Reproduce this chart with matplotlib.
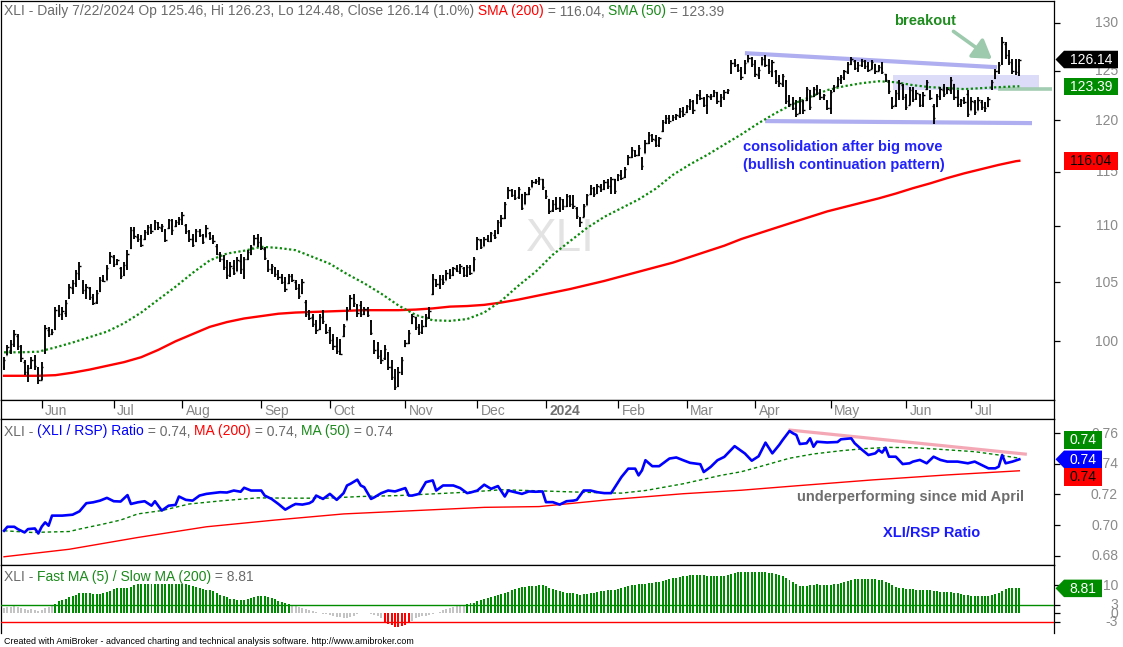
import numpy as np
import pandas as pd
import matplotlib
matplotlib.use("Agg")
import matplotlib.pyplot as plt
from matplotlib.patches import Polygon, Rectangle

# ------------------------------------------------------------------ data
holidays = ["2023-05-29", "2023-06-19", "2023-07-04", "2023-09-04", "2023-11-23",
            "2023-12-25", "2024-01-01", "2024-01-15", "2024-02-19", "2024-03-29",
            "2024-05-27", "2024-06-19", "2024-07-04"]
dates = pd.bdate_range("2023-05-16", "2024-07-22", freq="C", holidays=holidays)

opens = [
    97.9, 98.9, 99.3, 99.8, 100.4, 99.5, 98.3, 97.4, 97.9, 98.5,
    97.8, 96.9, 99.1, 100.9, 100.6, 101.0, 102.5, 102.3, 102.4, 103.7,
    104.5, 104.8, 105.7, 105.0, 104.3, 104.5, 103.6, 103.3, 104.2, 105.3,
    105.2, 106.8, 107.2, 106.6, 106.2, 105.6, 106.3, 108.0, 109.6, 109.0,
    108.9, 108.8, 109.3, 109.8, 109.7, 110.2, 109.8, 109.6, 109.8, 110.5,
    110.0, 110.2, 110.5, 110.1, 109.4, 108.8, 108.6, 109.5, 109.2, 109.0,
    109.3, 109.0, 108.2, 107.5, 107.0, 106.2, 105.7, 106.2, 106.0, 106.8,
    105.5, 107.0, 107.5, 108.3, 108.9, 108.8, 107.9, 106.8, 106.1, 106.2,
    105.8, 105.4, 105.1, 104.9, 105.5, 105.0, 104.5, 104.1, 103.3, 102.2,
    102.0, 101.3, 101.0, 102.1, 101.4, 100.9, 100.2, 99.6, 99.2, 100.4,
    101.8, 102.8, 103.5, 103.0, 103.0, 102.3, 102.7, 101.7, 100.0, 99.4,
    98.9, 98.6, 99.0, 97.9, 97.0, 96.4, 97.5, 99.6, 99.9, 101.5,
    102.0, 101.2, 100.8, 101.3, 102.0, 104.0, 105.2, 104.8, 105.2, 105.2,
    105.7, 105.6, 106.1, 106.0, 106.2, 105.6, 106.3, 106.0, 107.9, 108.7,
    108.2, 108.8, 108.6, 109.2, 109.3, 110.2, 110.7, 112.6, 113.3, 112.8,
    112.6, 112.9, 112.0, 112.9, 113.6, 114.0, 114.2, 114.3, 113.2, 112.4,
    111.4, 112.0, 111.6, 112.3, 111.8, 112.6, 112.0, 111.6, 110.7, 110.8,
    111.9, 112.9, 113.4, 113.0, 113.6, 113.4, 114.0, 113.7, 114.3, 114.2,
    114.7, 114.5, 115.7, 116.4, 117.0, 116.6, 116.3, 116.8, 117.8, 118.5,
    118.0, 117.6, 118.9, 119.8, 120.2, 120.0, 120.2, 120.4, 120.9, 120.8,
    121.3, 121.9, 121.7, 122.5, 122.2, 121.5, 122.3, 122.4, 122.8, 121.9,
    122.2, 122.8, 124.8, 125.8, 125.6, 125.0, 124.7, 125.9, 126.3, 125.9,
    124.5, 125.6, 126.2, 125.6, 124.8, 125.0, 123.9, 123.6, 123.9, 122.0,
    121.7, 121.2, 120.7, 121.8, 122.0, 123.0, 122.4, 123.0, 122.7, 122.3,
    121.9, 121.2, 122.9, 123.4, 124.0, 124.2, 124.8, 125.7, 126.0, 125.3,
    125.6, 125.9, 125.5, 125.2, 125.7, 125.0, 125.3, 124.6, 123.9, 122.2,
    121.5, 122.5, 123.5, 122.3, 121.5, 122.9, 122.2, 122.6, 121.6, 123.1,
    122.9, 121.4, 121.4, 122.3, 123.0, 122.7, 123.0, 123.6, 122.3, 121.6,
    122.0, 122.6, 121.0, 121.8, 121.0, 121.8, 121.3, 121.4, 123.2, 124.2,
    125.0, 125.8, 127.8, 126.6, 125.8, 125.0, 125.46]

highs = [
    98.72, 99.67, 100.08, 100.91, 100.63, 99.67, 98.45, 98.04, 98.72, 98.86,
    97.91, 98.31, 101.33, 101.19, 101.05, 102.87, 103.0, 102.87, 103.44, 104.86,
    105.16, 106.03, 106.76, 105.16, 104.86, 104.57, 104.0, 104.29, 105.45, 105.6,
    106.47, 107.64, 107.35, 107.06, 106.33, 106.76, 107.79, 109.88, 109.88, 109.27,
    109.12, 109.58, 110.03, 110.18, 110.49, 110.33, 110.18, 109.73, 110.64, 110.64,
    110.49, 110.79, 111.25, 110.18, 109.58, 109.27, 109.73, 109.73, 109.27, 110.03,
    109.42, 109.12, 108.39, 107.64, 107.35, 106.91, 106.76, 106.91, 107.2, 107.5,
    107.2, 107.79, 108.24, 109.12, 109.27, 108.98, 108.09, 106.91, 106.62, 106.33,
    106.03, 105.74, 105.45, 105.74, 105.74, 105.16, 104.86, 105.31, 103.44, 102.59,
    102.31, 101.75, 102.31, 102.59, 101.47, 101.19, 100.63, 100.35, 100.21, 101.47,
    102.87, 103.87, 104.0, 103.15, 103.4, 102.87, 102.87, 101.75, 100.08, 99.94,
    99.26, 99.67, 99.12, 98.45, 97.77, 97.91, 98.72, 100.08, 100.91, 102.31,
    102.03, 101.47, 101.75, 102.31, 102.87, 105.74, 105.31, 105.6, 105.6, 106.03,
    106.18, 106.33, 106.47, 106.62, 106.33, 106.47, 106.47, 107.2, 108.98, 108.83,
    108.98, 109.12, 109.42, 109.58, 110.49, 110.94, 112.18, 113.57, 113.42, 113.26,
    113.57, 112.95, 113.1, 113.57, 114.2, 114.35, 114.51, 114.35, 113.26, 112.48,
    112.33, 112.64, 112.64, 112.48, 112.95, 112.79, 112.79, 111.71, 110.79, 112.02,
    112.95, 113.73, 113.57, 113.88, 113.88, 114.2, 114.35, 114.51, 114.35, 114.83,
    115.14, 115.46, 116.6, 117.38, 117.06, 117.54, 116.42, 118.02, 118.84, 118.67,
    118.51, 118.35, 119.99, 120.49, 120.49, 120.49, 120.65, 121.15, 121.31, 121.48,
    122.15, 121.98, 122.65, 122.99, 122.31, 122.65, 122.65, 122.99, 122.82, 122.65,
    122.99, 123.16, 126.07, 126.24, 125.72, 125.38, 126.07, 126.59, 126.42, 126.07,
    125.38, 126.42, 126.59, 126.24, 126.07, 125.03, 124.52, 124.69, 124.01, 122.48,
    122.31, 121.98, 122.31, 121.98, 123.33, 123.05, 123.33, 123.5, 123.16, 122.65,
    121.98, 122.99, 123.5, 124.35, 124.52, 125.03, 125.9, 126.42, 126.07, 125.9,
    126.24, 126.07, 125.9, 126.07, 125.72, 125.55, 125.9, 124.69, 124.01, 122.31,
    122.99, 124.01, 123.67, 122.65, 123.33, 123.33, 122.99, 122.65, 122.82, 124.01,
    122.99, 121.64, 122.65, 123.33, 123.67, 123.33, 124.35, 123.67, 122.99, 122.15,
    122.31, 122.99, 122.31, 121.98, 122.31, 121.98, 121.81, 122.31, 124.01, 125.2,
    125.9, 128.51, 127.99, 127.11, 126.24, 126.24, 126.23]

lows = [
    97.64, 98.86, 98.99, 99.53, 99.26, 98.32, 97.23, 96.70, 97.77, 97.64,
    96.57, 96.83, 98.99, 100.35, 100.49, 100.91, 102.03, 101.75, 102.03, 103.58,
    104.0, 104.57, 105.16, 104.0, 103.58, 103.44, 103.01, 103.15, 104.14, 105.02,
    105.16, 106.62, 106.33, 106.47, 105.31, 105.5, 106.03, 107.94, 108.83, 108.53,
    108.09, 108.68, 109.12, 109.27, 109.58, 109.58, 109.42, 108.53, 109.73, 109.12,
    109.88, 110.03, 110.03, 109.27, 108.53, 108.09, 108.53, 108.98, 108.39, 108.98,
    108.68, 108.39, 107.35, 106.76, 106.03, 105.31, 105.45, 105.6, 105.95, 105.74,
    105.31, 106.91, 107.35, 108.24, 108.09, 107.79, 106.91, 105.89, 105.74, 105.45,
    105.16, 104.86, 104.14, 104.86, 105.02, 104.29, 103.58, 104.0, 102.03, 101.75,
    101.19, 100.63, 100.9, 101.47, 100.63, 99.8, 99.26, 98.99, 98.86, 100.35,
    101.75, 102.59, 102.87, 102.03, 102.0, 102.17, 102.03, 100.49, 98.99, 98.58,
    98.18, 98.45, 97.64, 96.83, 96.04, 96.3, 97.23, 99.53, 99.8, 101.47,
    100.91, 100.49, 100.63, 101.19, 101.89, 103.87, 104.57, 104.43, 104.72, 105.16,
    105.31, 105.55, 105.89, 105.74, 105.45, 105.45, 105.6, 105.95, 107.79, 107.94,
    108.15, 108.53, 108.53, 108.83, 109.27, 109.88, 110.64, 112.48, 112.64, 112.33,
    112.48, 111.4, 111.95, 112.79, 113.57, 113.88, 113.73, 113.26, 112.48, 111.09,
    111.25, 111.4, 111.25, 111.4, 111.71, 111.71, 111.56, 110.64, 109.88, 110.75,
    111.87, 112.79, 112.64, 112.95, 113.1, 113.26, 113.42, 112.95, 112.95, 114.1,
    114.2, 114.4, 115.6, 116.35, 116.42, 116.5, 115.14, 116.74, 117.7, 117.86,
    117.38, 117.38, 118.84, 119.66, 119.66, 119.95, 119.99, 120.16, 120.32, 120.75,
    120.98, 120.65, 121.64, 121.98, 121.31, 120.65, 121.98, 122.31, 121.64, 121.31,
    121.98, 122.65, 124.69, 125.38, 124.86, 124.01, 124.65, 125.85, 125.38, 124.35,
    124.18, 125.55, 125.38, 124.69, 124.35, 123.67, 123.33, 123.33, 121.64, 121.31,
    120.98, 120.32, 120.65, 120.65, 121.95, 120.98, 122.31, 122.48, 121.98, 121.98,
    120.98, 120.65, 122.82, 123.33, 123.67, 124.01, 124.69, 125.55, 125.03, 124.86,
    125.38, 125.2, 124.86, 125.15, 124.69, 124.95, 124.69, 123.84, 122.65, 121.14,
    121.31, 121.98, 121.98, 120.98, 121.45, 121.81, 121.98, 121.31, 121.31, 122.99,
    121.98, 119.66, 121.31, 121.98, 122.31, 122.65, 122.65, 121.98, 121.31, 121.31,
    121.64, 120.32, 120.98, 120.49, 120.95, 120.98, 120.82, 121.31, 122.99, 124.18,
    124.69, 125.55, 126.24, 125.55, 124.69, 124.52, 124.48]

closes = [
    98.5, 99.5, 99.8, 100.6, 99.6, 98.6, 97.5, 97.8, 98.5, 98.0,
    96.9, 97.9, 101.1, 100.6, 100.8, 102.6, 102.3, 102.5, 103.2, 104.6,
    104.9, 105.8, 106.4, 104.3, 104.6, 103.7, 103.2, 104.1, 105.2, 105.1,
    106.2, 107.3, 106.6, 106.9, 105.5, 106.5, 107.5, 109.6, 109.1, 108.8,
    108.3, 109.4, 109.9, 109.5, 110.3, 109.9, 110.0, 108.7, 110.5, 109.6,
    110.3, 110.6, 111.0, 109.5, 108.8, 108.3, 109.5, 109.2, 108.5, 109.8,
    108.9, 108.6, 107.5, 107.0, 106.3, 105.6, 106.4, 105.8, 106.9, 106.1,
    107.0, 107.6, 108.1, 108.9, 108.5, 108.0, 107.1, 106.1, 106.4, 105.7,
    105.4, 105.0, 104.4, 105.5, 105.2, 104.5, 103.8, 105.0, 102.3, 101.9,
    101.4, 100.9, 102.0, 101.7, 100.8, 100.1, 99.6, 99.2, 99.0, 101.3,
    102.6, 103.6, 103.2, 102.4, 102.3, 102.7, 102.2, 100.7, 99.3, 98.8,
    98.5, 99.4, 97.9, 97.1, 96.3, 97.5, 98.5, 99.9, 100.7, 102.1,
    101.2, 100.8, 101.3, 102.0, 102.5, 105.3, 104.8, 105.3, 105.0, 105.8,
    105.6, 106.2, 106.0, 106.4, 105.6, 106.3, 105.8, 107.0, 108.8, 108.1,
    108.8, 108.6, 109.3, 109.0, 110.3, 110.7, 112.0, 113.3, 112.8, 112.5,
    113.4, 111.6, 112.9, 113.4, 114.0, 114.1, 114.3, 113.6, 112.7, 111.3,
    112.0, 111.6, 112.4, 111.8, 112.7, 112.0, 111.8, 110.9, 110.3, 111.8,
    112.8, 113.5, 112.9, 113.7, 113.4, 114.0, 113.7, 114.3, 113.2, 114.7,
    114.4, 115.3, 116.4, 117.1, 116.6, 117.3, 115.5, 117.8, 118.5, 118.1,
    117.6, 118.2, 119.8, 120.2, 119.9, 120.3, 120.5, 120.9, 120.6, 121.4,
    121.9, 121.0, 122.5, 122.2, 121.5, 122.4, 122.4, 122.8, 121.9, 122.3,
    122.8, 123.0, 125.8, 125.6, 125.1, 124.3, 125.8, 126.3, 125.7, 124.6,
    125.1, 126.2, 125.6, 124.9, 125.9, 123.9, 123.7, 124.4, 121.9, 121.6,
    121.2, 120.6, 121.9, 121.0, 123.1, 121.3, 123.1, 122.7, 122.3, 122.5,
    121.2, 122.8, 123.3, 124.1, 124.3, 124.9, 125.7, 126.2, 125.3, 125.6,
    126.0, 125.5, 125.1, 125.9, 124.9, 125.4, 124.8, 124.0, 122.9, 121.4,
    122.7, 123.7, 122.3, 121.3, 123.0, 122.1, 122.7, 121.5, 122.5, 123.8,
    122.2, 120.2, 122.4, 123.1, 122.6, 123.1, 124.0, 122.3, 121.6, 122.0,
    121.8, 120.6, 121.9, 120.8, 122.0, 121.3, 121.2, 122.1, 123.8, 125.0,
    125.6, 128.0, 126.6, 125.9, 125.0, 124.89, 126.14]

# moving averages of price, read every 5 bars
ma_idx = list(range(0, 300, 5)) + [296]
sma50 = [
    99.1, 99.1, 99.15, 99.5, 99.9, 100.35, 100.8, 101.5, 102.4, 103.5,
    104.6, 105.8, 106.9, 107.5, 107.75, 108.1, 108.0, 107.8, 107.2, 106.6,
    105.7, 104.9, 104.0, 103.0, 102.2, 101.75, 101.7, 101.85, 102.4, 103.4,
    104.7, 105.9, 107.4, 108.6, 109.8, 110.8, 111.6, 112.4, 113.4, 114.7,
    115.7, 116.6, 117.6, 118.6, 119.7, 120.7, 121.6, 122.3, 123.0, 123.4,
    123.7, 123.9, 123.8, 123.5, 123.3, 123.2, 123.1, 123.2, 123.3, 123.38, 123.39]
sma200 = [
    97.2, 97.2, 97.2, 97.25, 97.45, 97.7, 98.0, 98.3, 98.7, 99.3,
    100.0, 100.6, 101.2, 101.6, 101.9, 102.1, 102.3, 102.4, 102.45, 102.5,
    102.55, 102.6, 102.6, 102.6, 102.65, 102.75, 102.9, 102.95, 103.05, 103.25,
    103.5, 103.8, 104.1, 104.4, 104.75, 105.1, 105.5, 105.9, 106.3, 106.7,
    107.2, 107.7, 108.2, 108.8, 109.3, 109.8, 110.3, 110.8, 111.3, 111.7,
    112.1, 112.5, 112.95, 113.45, 113.9, 114.4, 114.85, 115.25, 115.65, 116.0, 116.04]

# XLI / RSP ratio
ratio_idx = [
    0, 1, 3, 4, 6, 7, 9, 10, 11, 12, 13, 14, 17, 20, 22, 24, 26, 28, 30, 32,
    34, 36, 37, 39, 41, 43, 44, 46, 48, 50, 51, 53, 55, 57, 59, 63, 65, 67, 69, 70,
    72, 75, 76, 78, 80, 82, 84, 85, 87, 89, 90, 91, 93, 95, 97, 99, 100, 101, 103, 104,
    105, 107, 108, 110, 112, 114, 117, 118, 119, 121, 123, 125, 126, 128, 131, 133, 135, 136, 138, 140,
    142, 144, 146, 147, 149, 151, 153, 155, 157, 158, 160, 162, 164, 166, 167, 169, 171, 173, 175, 177,
    180, 182, 184, 185, 186, 187, 189, 191, 194, 196, 198, 200, 203, 204, 206, 208, 210, 213, 216, 218,
    220, 222, 224, 226, 227, 229, 230, 231, 232, 234, 235, 236, 237, 240, 243, 244, 247, 248, 250, 252,
    254, 255, 256, 257, 258, 260, 262, 264, 265, 267, 269, 271, 273, 275, 278, 281, 283, 285, 287, 289,
    290, 291, 292, 294, 296]
ratio_vals = [
    0.6963, 0.6989, 0.6989, 0.6974, 0.6952, 0.6974, 0.6978, 0.6945, 0.6990, 0.7018,
    0.6996, 0.7062, 0.7062, 0.7068, 0.7090, 0.7143, 0.7149, 0.7160, 0.7178, 0.7156,
    0.7154, 0.7196, 0.7138, 0.7149, 0.7156, 0.7127, 0.7156, 0.7095, 0.7127, 0.7132,
    0.7187, 0.7165, 0.7160, 0.7193, 0.7204, 0.7215, 0.7213, 0.7226, 0.7218, 0.7244,
    0.7226, 0.7226, 0.7193, 0.7171, 0.7138, 0.7101, 0.7127, 0.7138, 0.7134, 0.7143,
    0.7156, 0.7193, 0.7171, 0.7204, 0.7165, 0.7209, 0.7259, 0.7270, 0.7297, 0.7259,
    0.7248, 0.7171, 0.7182, 0.7209, 0.7226, 0.7220, 0.7242, 0.7193, 0.7193, 0.7204,
    0.7281, 0.7292, 0.7226, 0.7259, 0.7259, 0.7242, 0.7209, 0.7213, 0.7226, 0.7264,
    0.7237, 0.7255, 0.7187, 0.7226, 0.7215, 0.7204, 0.7220, 0.7218, 0.7220, 0.7150,
    0.7150, 0.7134, 0.7156, 0.7160, 0.7165, 0.7226, 0.7226, 0.7215, 0.7209, 0.7209,
    0.7314, 0.7369, 0.7369, 0.7325, 0.7358, 0.7424, 0.7385, 0.7385, 0.7435, 0.7442,
    0.7424, 0.7407, 0.7398, 0.7347, 0.7380, 0.7424, 0.7446, 0.7516, 0.7468, 0.7421,
    0.7450, 0.7539, 0.7469, 0.7524, 0.7556, 0.7615, 0.7600, 0.7589, 0.7530, 0.7535,
    0.7567, 0.7512, 0.7545, 0.7540, 0.7543, 0.7561, 0.7567, 0.7535, 0.7495, 0.7458,
    0.7469, 0.7491, 0.7474, 0.7506, 0.7447, 0.7447, 0.7399, 0.7404, 0.7415, 0.7426,
    0.7404, 0.7447, 0.7426, 0.7415, 0.7415, 0.7404, 0.7415, 0.7393, 0.7371, 0.7371,
    0.7382, 0.7458, 0.7404, 0.7415, 0.7430]
ratio_ma50_idx = [0, 8, 19, 22, 29, 34, 39, 46, 54, 64, 74, 84, 94, 104, 115, 125, 135, 145,
                  156, 164, 176, 180, 187, 198, 209, 215, 220, 229, 236, 244, 251, 258, 266,
                  273, 283, 290, 296]
ratio_ma50_vals = [0.6963, 0.6952, 0.6958, 0.6974, 0.7007, 0.7033, 0.7073, 0.7095, 0.7138,
                   0.7160, 0.7178, 0.7176, 0.7176, 0.7187, 0.7193, 0.7204, 0.7215, 0.7231,
                   0.7224, 0.7218, 0.7210, 0.7209, 0.7226, 0.7270, 0.7325, 0.7349, 0.7380,
                   0.7437, 0.7465, 0.7486, 0.7500, 0.7508, 0.7505, 0.7495, 0.7480, 0.7458, 0.7437]
ratio_ma200_idx = [0, 19, 39, 59, 79, 99, 120, 140, 156, 176, 198, 215, 230, 253, 275, 296]
ratio_ma200_vals = [0.6793, 0.6842, 0.6919, 0.6989, 0.7033, 0.7073, 0.7095, 0.7116, 0.7121,
                    0.7165, 0.7205, 0.7228, 0.7255, 0.7295, 0.7328, 0.7355]

# Fast MA(5) / Slow MA(200) oscillator, one value per bar
fast_slow = [
    2.0, 2.2, 2.4, 2.6, 2.4, 2.0, 1.4, 1.2, 1.4, 1.3,
    0.9, 1.0, 1.8, 2.4, 2.9, 3.4, 4.2, 4.7, 5.0, 5.6,
    6.1, 6.6, 7.1, 7.3, 7.3, 7.1, 6.9, 6.8, 6.8, 7.0,
    7.5, 8.0, 8.5, 8.8, 8.9, 9.0, 9.0, 9.4, 9.9, 10.2,
    10.3, 10.4, 10.4, 10.5, 10.5, 10.5, 10.5, 10.4, 10.4, 10.4,
    10.3, 10.3, 10.3, 10.2, 10.0, 9.6, 9.3, 9.0, 8.7, 8.4,
    8.2, 7.8, 7.3, 6.6, 6.1, 5.6, 5.2, 4.9, 4.7, 4.7,
    4.8, 5.0, 5.3, 5.7, 6.0, 6.2, 6.1, 5.8, 5.4, 4.9,
    4.4, 4.0, 3.6, 3.2, 2.9, 2.6, 2.3, 2.0, 1.6, 1.1,
    0.7, 0.3, 0.1, -0.2, -0.4, -0.6, -0.9, -1.2, -1.4, -1.5,
    -1.7, -1.3, -0.8, -0.3, 0.1, 0.2, 0.1, -0.2, -0.6, -1.1,
    -1.8, -3.2, -3.8, -4.3, -4.8, -4.9, -4.6, -4.2, -3.5, -2.6,
    -1.8, -1.4, -1.1, -0.9, -0.6, -0.2, 0.2, 0.6, 1.0, 1.4,
    1.8, 2.2, 2.5, 2.8, 2.95, 3.2, 3.5, 3.8, 4.2, 4.6,
    5.0, 5.3, 5.6, 6.0, 6.3, 6.7, 7.2, 7.7, 8.2, 8.6,
    9.0, 9.2, 9.4, 9.5, 9.6, 9.8, 10.0, 10.0, 9.6, 9.0,
    8.6, 8.1, 7.8, 7.5, 7.3, 7.1, 7.0, 6.8, 6.6, 6.7,
    6.9, 7.1, 7.3, 7.6, 7.8, 8.0, 8.1, 8.2, 8.3, 8.5,
    8.8, 9.2, 9.6, 9.9, 10.1, 10.3, 10.2, 10.4, 10.6, 10.8,
    10.9, 11.0, 11.3, 11.8, 12.1, 12.4, 12.6, 12.9, 13.2, 13.3,
    13.4, 13.4, 13.4, 13.4, 13.4, 13.3, 13.3, 13.2, 13.1, 13.1,
    13.2, 13.5, 13.9, 14.3, 14.6, 14.7, 14.7, 14.6, 14.6, 14.6,
    14.5, 14.5, 14.5, 14.3, 14.2, 14.0, 13.6, 13.1, 12.5, 11.8,
    11.0, 10.2, 9.8, 9.6, 9.8, 9.9, 10.1, 10.2, 10.1, 10.0,
    9.9, 10.0, 10.2, 10.5, 10.8, 11.1, 11.5, 11.9, 12.1, 12.2,
    12.2, 12.2, 12.2, 12.2, 12.1, 11.9, 11.6, 11.2, 10.6, 10.0,
    9.4, 9.1, 8.9, 8.7, 8.6, 8.5, 8.4, 8.3, 8.3, 8.4,
    8.3, 8.0, 7.9, 7.5, 7.5, 7.6, 7.5, 7.3, 7.1, 6.9,
    6.6, 6.4, 6.2, 6.1, 6.0, 6.0, 6.0, 6.1, 6.4, 6.8,
    7.2, 8.0, 8.6, 8.8, 8.8, 8.8, 8.81]

# annotation geometry (bar index, value)
consol_upper = ([216, 289.5], [126.8, 125.34])
consol_lower = ([221.9, 299.7], [119.9, 119.7])
consol_box = (259.3, 301.6, 123.0, 124.5)
sma_marker = ([289.8, 305.4], [123.1, 123.1])
ratio_trend = ([228.7, 298.2], [0.7622, 0.7463])

assert len(dates) == len(closes) == len(opens) == len(highs) == len(lows) == len(fast_slow)

# ------------------------------------------------------------------ figure
W, H = 1123, 647
plt.rcParams['font.family'] = ['Liberation Sans', 'DejaVu Sans']
fig = plt.figure(figsize=(W / 100, H / 100), dpi=100)
fig.patch.set_facecolor('white')

GREY = '#6b6b6b'
TICKGREY = '#8a8a8a'
GREEN = '#008c00'
RED = '#ff0000'
BLUE = '#0000ff'
AXR = 1054.3


def rect(x0, y0, x1, y1):
    return [x0 / W, 1 - y1 / H, (x1 - x0) / W, (y1 - y0) / H]


ax1 = fig.add_axes(rect(1, 1, AXR, 400))
axd = fig.add_axes(rect(1, 400, AXR, 419.3))
ax2 = fig.add_axes(rect(1, 419.3, AXR, 565))
ax3 = fig.add_axes(rect(1, 565, AXR, 632.7))

n = len(closes)
x = np.arange(n)
XLIM = (-0.875, 306.2)
for a in (ax1, axd, ax2, ax3):
    a.set_xlim(*XLIM)
    a.set_xticks([])
    for s in a.spines.values():
        s.set_linewidth(0.9)
        s.set_color('black')
ax3.spines['bottom'].set_visible(False)

# ---- price panel
ax1.set_yscale('log')
ax1.set_ylim(95.28, 132.37)
price_ticks = [100, 105, 110, 115, 120, 125, 130]
ax1.set_yticks(price_ticks)
ax1.yaxis.set_minor_locator(plt.NullLocator())
ax1.tick_params(axis='y', which='both', left=False, right=True, labelleft=False,
                labelright=False, direction='out', length=4, width=0.9)

ax1.add_patch(Rectangle((consol_box[0], consol_box[2]), consol_box[1] - consol_box[0],
                        consol_box[3] - consol_box[2], facecolor='#dcdcf9', edgecolor='none', zorder=1))
ax1.plot(*consol_upper, color='#aeaef0', lw=3.0, solid_capstyle='butt', zorder=1.5)
ax1.plot(*consol_lower, color='#aeaef0', lw=3.0, solid_capstyle='butt', zorder=1.5)
ax1.plot(*sma_marker, color='#a3cdb2', lw=2.6, solid_capstyle='butt', zorder=1.5)

ax1.text(162.1, 108.8, 'XLI', color='#e3e3e3', fontsize=33, ha='center', va='center', zorder=0.5)

ax1.plot(ma_idx, sma200, color=RED, lw=1.7, zorder=2)
ax1.plot(ma_idx, sma50, color='#0a8a0a', lw=1.6, ls=(0, (1, 1.1)), zorder=2)

ax1.vlines(x, lows, highs, color='black', lw=1.35, zorder=3)
ax1.hlines(opens, x - 0.4, x, color='black', lw=1.0, zorder=3)
ax1.hlines(closes, x, x + 0.4, color='black', lw=1.0, zorder=3)

ax1.text(268.4, 130.2, 'breakout', color='#1e8c1e', fontsize=10.5, fontweight='bold',
         ha='center', va='center')
ax1.annotate('', xy=(288, 126.2), xytext=(276.8, 129.1),
             arrowprops=dict(arrowstyle='-|>,head_length=0.55,head_width=0.35', color='#9dc9ad',
                             lw=2.6, mutation_scale=20, shrinkA=0, shrinkB=0))
ax1.text(215.5, 117.4, 'consolidation after big move', color='#2222ff', fontsize=10.5,
         fontweight='bold', ha='left', va='center')
ax1.text(215.5, 115.6, '(bullish continuation pattern)', color='#2222ff', fontsize=10.5,
         fontweight='bold', ha='left', va='center')

# ---- date strip
axd.set_ylim(0, 1)
axd.set_yticks([])
month_pos = [i for i in range(1, n) if dates[i].month != dates[i - 1].month]
axd.vlines(month_pos, 0.6, 1.0, color='black', lw=0.9)
for i in month_pos:
    d = dates[i]
    if d.month == 1:
        lab, fw, col = str(d.year), 'bold', '#707070'
    else:
        lab, fw, col = d.strftime('%b'), 'normal', '#858585'
    axd.annotate(lab, xy=(i, 0.2), xycoords=('data', 'axes fraction'), xytext=(3.5, 0),
                 textcoords='offset pixels', ha='left', va='baseline', fontsize=10,
                 color=col, fontweight=fw)

# ---- ratio panel
ax2.set_ylim(0.67392, 0.76915)
ratio_ticks = [0.68, 0.70, 0.72, 0.74, 0.76]
ax2.set_yticks(ratio_ticks)
ax2.tick_params(axis='y', left=False, right=True, labelleft=False, labelright=False,
                direction='out', length=4, width=0.9)
ax2.plot(ratio_ma200_idx, ratio_ma200_vals, color=RED, lw=1.0)
ax2.plot(ratio_ma50_idx, ratio_ma50_vals, color='#008000', lw=1.0, ls=(0, (2.5, 2)))
ax2.plot(*ratio_trend, color='#f4a8b6', lw=2.3, solid_capstyle='butt')
ax2.plot(ratio_idx, ratio_vals, color=BLUE, lw=1.9)
ax2.text(231.3, 0.7182, 'underperforming since mid April', color='#6e6e6e', fontsize=10.5,
         fontweight='bold', ha='left', va='center')
ax2.text(256.3, 0.6950, 'XLI/RSP Ratio', color='#1a1aff', fontsize=10.5, fontweight='bold',
         ha='left', va='center')

# ---- oscillator panel
ax3.set_ylim(-6.86, 17.07)
osc_ticks = [-3, 0, 3, 10]
ax3.set_yticks(osc_ticks)
ax3.tick_params(axis='y', left=False, right=True, labelleft=False, labelright=False,
                direction='out', length=4, width=0.9)
bar_cols = [GREEN if v >= 3 else (RED if v <= -3 else '#c4c4c4') for v in fast_slow]
ax3.bar(x, fast_slow, width=0.58, color=bar_cols, linewidth=0, zorder=2)
ax3.axhline(3, color=GREEN, lw=1.0, zorder=3)
ax3.axhline(-3, color=RED, lw=1.0, zorder=3)


# ------------------------------------------------------------------ texts
def chain(ax, xpx, ypx, pieces, size=10):
    t = ax.annotate(pieces[0][0], xy=(xpx, H - ypx), xycoords='figure pixels',
                    color=pieces[0][1], fontsize=size, ha='left', va='baseline',
                    annotation_clip=False)
    for txt, col in pieces[1:]:
        t = ax.annotate(txt, xy=(1, 0), xycoords=t, color=col, fontsize=size,
                        ha='left', va='bottom', annotation_clip=False)


pct = (closes[-1] / closes[-2] - 1) * 100
d_last = dates[-1]
chain(ax1, 4, 15.5, [
    (f"XLI - Daily {d_last.month}/{d_last.day}/{d_last.year} Op {opens[-1]:.2f}, "
     f"Hi {highs[-1]:.2f}, Lo {lows[-1]:.2f}, Close {closes[-1]:.2f} ({pct:.1f}%)", GREY),
    (" SMA (200)", RED), (f" = {sma200[-1]:.2f}, ", GREY),
    ("SMA (50)", '#1a8a1a'), (f" = {sma50[-1]:.2f}", GREY)])
chain(ax2, 4, 435.5, [
    ("XLI - ", GREY), ("(XLI / RSP) Ratio", BLUE), (f" = {ratio_vals[-1]:.2f}, ", GREY),
    ("MA (200)", RED), (f" = {ratio_ma200_vals[-1]:.2f}, ", GREY),
    ("MA (50)", '#1a8a1a'), (f" = {ratio_ma50_vals[-1]:.2f}", GREY)])
chain(ax3, 4, 581, [
    ("XLI - ", GREY), ("Fast MA (5) / Slow MA (200)", '#1a8a1a'),
    (f" = {fast_slow[-1]:.2f}", GREY)])

fig.text(4 / W, 1 - 644.5 / H,
         "Created with AmiBroker - advanced charting and technical analysis software. "
         "http://www.amibroker.com", fontsize=6.4, color='black', ha='left', va='baseline')


# right axis tick labels
def ydisp(ax, v):
    return ax.transData.transform((0, v))[1]


for ax, ticks, fmt in ((ax1, price_ticks, '{:.0f}'), (ax2, ratio_ticks, '{:.2f}'),
                       (ax3, osc_ticks, '{:.0f}')):
    for v in ticks:
        fig.text(1118 / W, (ydisp(ax, v) - 0.5) / H, fmt.format(v), ha='right',
                 va='center', fontsize=10, color=TICKGREY)


def side_box(yc, txt, fc, tc, x_right, arrow):
    h = 17.5
    xb = 1064
    top, bot = yc + h / 2, yc - h / 2
    if arrow:
        pts = [(1055.5, yc), (xb, top), (x_right, top), (x_right, bot), (xb, bot)]
    else:
        pts = [(xb, top), (x_right, top), (x_right, bot), (xb, bot)]
    fig.add_artist(Polygon([(px / W, py / H) for px, py in pts], closed=True,
                           transform=fig.transFigure, facecolor=fc, edgecolor='none', zorder=5))
    fig.text((xb + x_right) / 2 / W, (yc - 0.5) / H, txt, ha='center', va='center',
             color=tc, fontsize=10, zorder=6)


side_box(ydisp(ax1, closes[-1]), f"{closes[-1]:.2f}", 'black', 'white', 1118, True)
side_box(ydisp(ax1, sma50[-1]), f"{sma50[-1]:.2f}", GREEN, 'white', 1118, False)
side_box(ydisp(ax1, sma200[-1]), f"{sma200[-1]:.2f}", RED, 'black', 1118, False)

yb = ydisp(ax2, ratio_vals[-1])
side_box(yb, f"{ratio_vals[-1]:.2f}", BLUE, 'white', 1102, True)
side_box(yb + 19.5, f"{ratio_ma50_vals[-1]:.2f}", GREEN, 'white', 1102, False)
side_box(yb - 17.5, f"{ratio_ma200_vals[-1]:.2f}", RED, 'black', 1102, False)

side_box(ydisp(ax3, fast_slow[-1]), f"{fast_slow[-1]:.2f}", GREEN, 'white', 1102, True)

fig.savefig('out.png', dpi=100, facecolor='white')
